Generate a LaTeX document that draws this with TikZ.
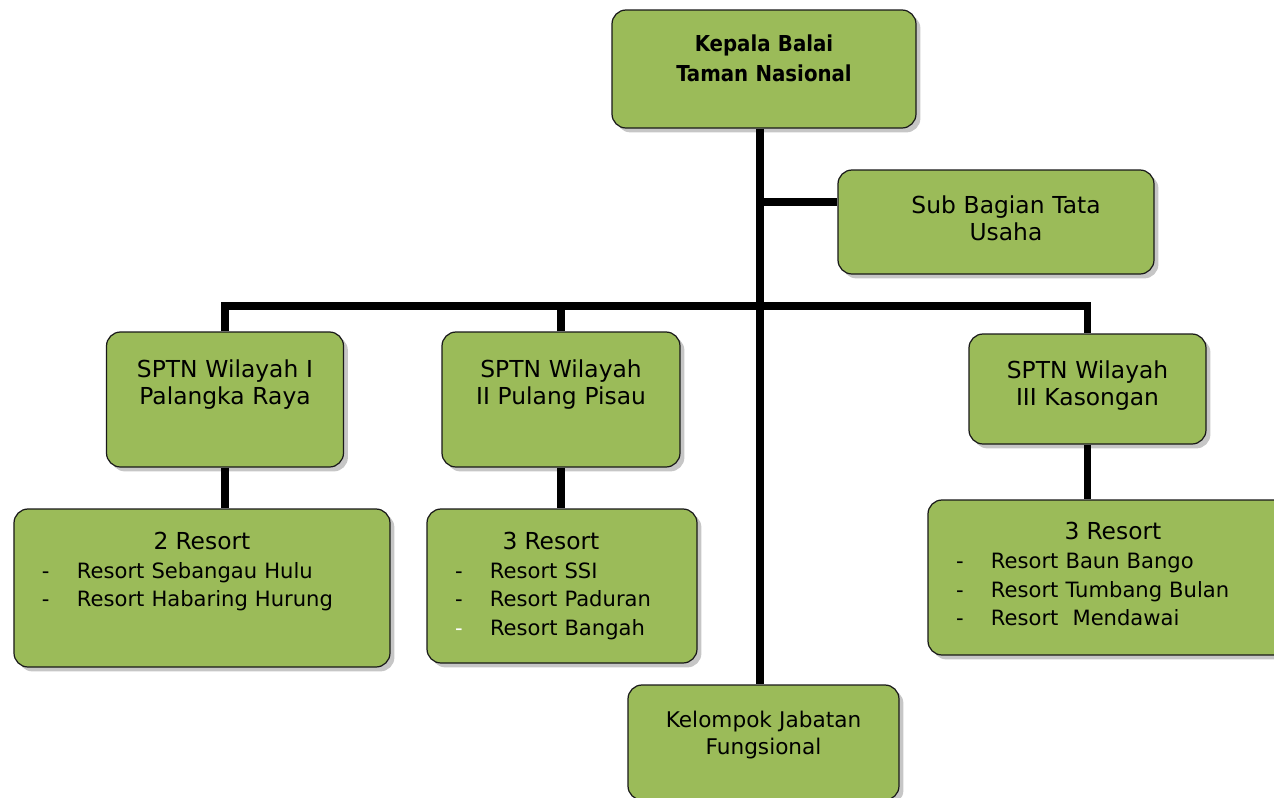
\documentclass[tikz,border=0pt]{standalone}
\usepackage{fontspec}
\setmainfont{DejaVu Sans}
\newfontfamily\kepalafont{DejaVu Sans Condensed Bold}
\usepackage{tikz}
\usetikzlibrary{shadows}
\setlength{\parindent}{0pt}

\definecolor{balaigreen}{HTML}{9BBB59}
\newcommand{\resortitem}[1]{\makebox[0.7cm][l]{-}#1}
\newcommand{\resorttitle}[1]{\hfill{\fontsize{13.3}{16.4}\selectfont #1}\hfill\null}
\newcommand{\padbelow}[1]{\rule[-#1]{0pt}{0pt}}

\tikzset{
    unit/.style={draw=black!90, line width=0.7pt, fill=balaigreen, rounded corners=8pt,
        drop shadow={shadow xshift=2.5pt, shadow yshift=-2.5pt, opacity=0.45},
        align=center, font=\fontsize{13.3}{15.4}\selectfont, inner xsep=0.2cm, inner ysep=0pt},
    resortbox/.style={unit, align=left, font=\fontsize{12}{16.4}\selectfont, inner xsep=0.56cm},
    link/.style={line width=4pt}
}

\begin{document}
\begin{tikzpicture}
        \useasboundingbox (0, 0) rectangle (25.48, -15.96);

        \node[unit, text width=5.68cm, minimum height=2.36cm, font=\kepalafont\fontsize{12.5}{17}\selectfont] (kb) at (15.28, -1.38) {Kepala Balai\\Taman Nasional\padbelow{0.44cm}};
        \node[unit, text width=5.92cm, minimum height=2.08cm] (sb) at (19.92, -4.44) {\hspace*{0.4cm}Sub Bagian Tata\\\hspace*{0.4cm}Usaha\padbelow{0.16cm}};

        \node[unit, text width=4.34cm, minimum height=2.7cm] (w1) at (4.5, -7.99) {SPTN Wilayah I\\Palangka Raya\padbelow{0.7cm}};
        \node[unit, text width=4.36cm, minimum height=2.7cm] (w2) at (11.22, -7.99) {SPTN Wilayah\\II Pulang Pisau\padbelow{0.7cm}};
        \node[unit, text width=4.34cm, minimum height=2.2cm] (w3) at (21.75, -7.78) {SPTN Wilayah\\III Kasongan\padbelow{0.22cm}};

        \node[resortbox, text width=6.4cm, minimum height=3.16cm] (r1) at (4.04, -11.76) {\resorttitle{2 Resort}\\
            \resortitem{Resort Sebangau Hulu}\\
            \resortitem{Resort Habaring Hurung}\padbelow{0.74cm}};
        \node[resortbox, text width=4.28cm, minimum height=3.08cm] (r2) at (11.24, -11.72) {\resorttitle{3 Resort}\hspace*{0.44cm}\null\\
            \resortitem{Resort SSI}\\
            \resortitem{Resort Paduran}\\
            \makebox[0.7cm][l]{\textcolor{white}{-}}Resort Bangah};
        \node[resortbox, text width=6.28cm, minimum height=3.1cm] (r3) at (22.26, -11.55) {\resorttitle{3 Resort}\\
            \resortitem{Resort Baun Bango}\\
            \resortitem{Resort Tumbang Bulan}\\
            \resortitem{Resort\ \ Mendawai}\padbelow{0.14cm}};

        \node[unit, text width=5.02cm, minimum height=2.3cm, font=\fontsize{12.3}{15.3}\selectfont] (kj) at (15.27, -14.85) {Kelompok Jabatan\\Fungsional\padbelow{0.38cm}};

        \coordinate (trunk) at (15.2, 0);
        \coordinate (tu) at (15.2, -4.04);
        \coordinate (bar) at (15.2, -6.12);

        \draw[link] (kb.south -| trunk) -- (kj.north -| trunk);
        \draw[link] (tu) -- (tu -| sb.west);

        \draw[link] (w1.north) |- (bar) -| (w3.north);
        \draw[link] (w2.north) -- (w2.north |- bar);

        \draw[link] (w1.south) -- (w1.south |- r1.north);
        \draw[link] (w2.south) -- (w2.south |- r2.north);
        \draw[link] (w3.south) -- (w3.south |- r3.north);
    \end{tikzpicture}
\end{document}
